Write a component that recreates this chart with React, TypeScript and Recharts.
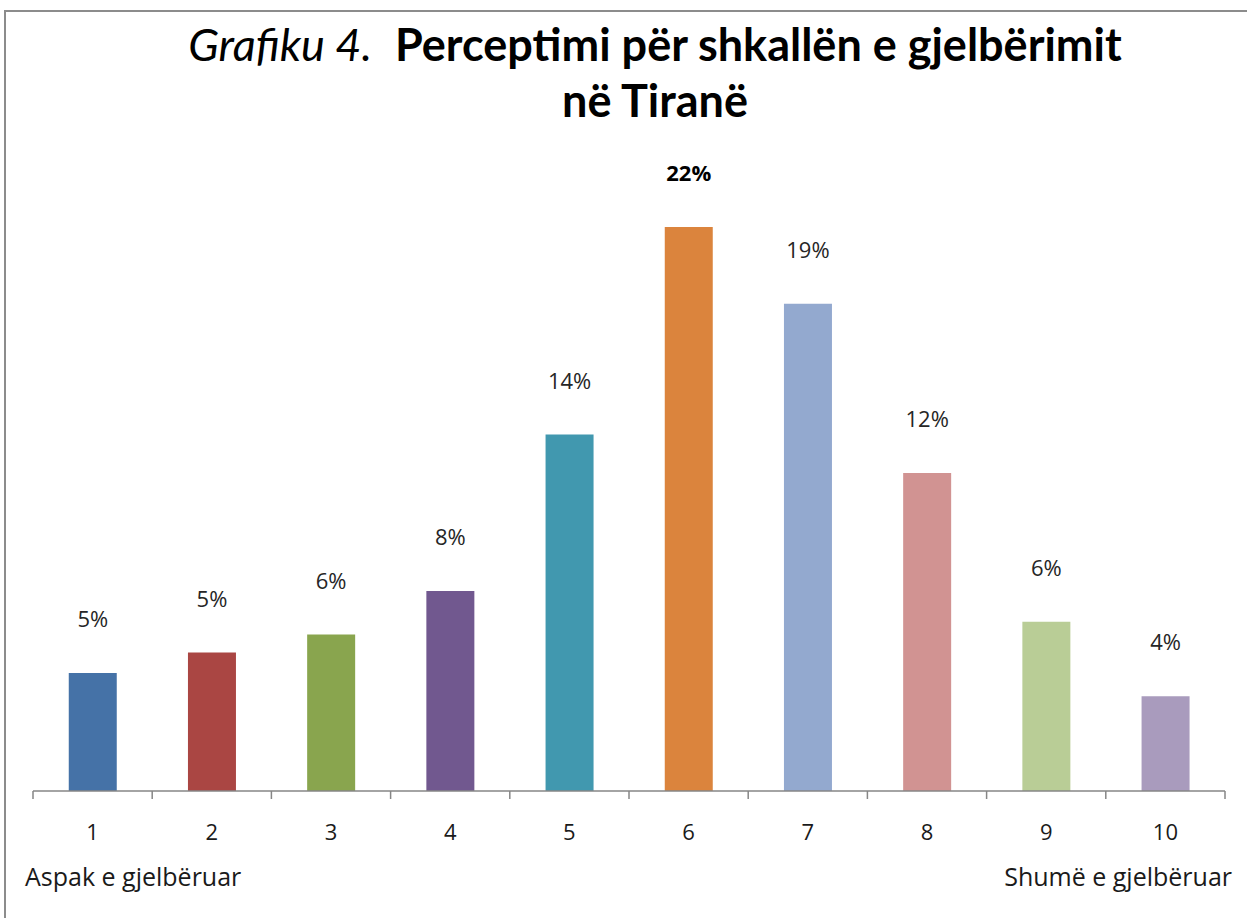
import React from 'react';
import { BarChart, Bar, XAxis, YAxis, Cell, LabelList } from 'recharts';

const categories = ['1', '2', '3', '4', '5', '6', '7', '8', '9', '10'];
const values = [4.6, 5.4, 6.1, 7.8, 13.9, 22.0, 19.0, 12.4, 6.6, 3.7];
const valueLabels = ['5%', '5%', '6%', '8%', '14%', '22%', '19%', '12%', '6%', '4%'];
const colors = ['#4572A7', '#AA4643', '#89A54E', '#71588F', '#4198AF', '#DB843D', '#93A9CF', '#D19392', '#B9CD96', '#A99BBD'];
const leftEndLabel = 'Aspak e gjelbëruar';
const rightEndLabel = 'Shumë e gjelbëruar';

const data = categories.map((c, i) => ({ name: c, value: values[i], label: valueLabels[i] }));
const maxIdx = values.indexOf(Math.max(...values));

const FONT = 'Lato, "Open Sans", sans-serif';
const SMALL = '"Open Sans", Lato, sans-serif';
const TICK_MARGIN = 40;
const TICK_LEN = 8;

const renderLabel = (props: any) => {
  const { x, y, width, index } = props;
  return (
    <text
      x={x + width / 2}
      y={y - 55}
      textAnchor="middle"
      dominantBaseline="central"
      fontFamily={SMALL}
      fontSize={22}
      fontWeight={index === maxIdx ? 700 : 400}
      fill={index === maxIdx ? '#000' : '#262626'}
    >
      {valueLabels[index]}
    </text>
  );
};

const CatTick = (props: any) => {
  const { x, y, payload, width, visibleTicksCount, index } = props;
  const count = visibleTicksCount || categories.length;
  const half = width / count / 2;
  const axisY = y - TICK_MARGIN;
  return (
    <g>
      <line x1={x - half} x2={x - half} y1={axisY} y2={axisY + TICK_LEN} stroke="#868686" strokeWidth={1.5} />
      {index === count - 1 && (
        <line x1={x + half} x2={x + half} y1={axisY} y2={axisY + TICK_LEN} stroke="#868686" strokeWidth={1.5} />
      )}
      <text x={x} y={y} textAnchor="middle" dominantBaseline="central" fontFamily={SMALL} fontSize={22} fill="#1a1a1a">
        {payload.value}
      </text>
    </g>
  );
};

export default function App() {
  return (
    <div style={{ position: 'absolute', left: 0, top: 0, width: 1247, height: 918, overflow: 'hidden', background: '#fff' }}>
      <div
        style={{
          position: 'absolute',
          left: 4,
          top: 10,
          width: 1300,
          height: 1000,
          border: '2px solid #8c8c8c',
          boxSizing: 'border-box',
        }}
      />
      <div
        style={{
          position: 'absolute',
          left: 0,
          top: 16,
          width: 1310,
          textAlign: 'center',
          fontFamily: FONT,
          fontSize: 45,
          lineHeight: '56px',
          color: '#000',
        }}
      >
        <div>
          <span style={{ fontStyle: 'italic', fontWeight: 400 }}>Grafiku 4.</span>
          <span>&nbsp;&nbsp;</span>
          <span style={{ fontWeight: 700 }}>Perceptimi për shkallën e gjelbërimit</span>
        </div>
        <div style={{ fontWeight: 700 }}>në Tiranë</div>
      </div>
      <div style={{ position: 'absolute', left: 0, top: 0 }}>
        <BarChart
          width={1247}
          height={918}
          data={data}
          margin={{ top: 150, right: 22, bottom: 87, left: 33 }}
          barCategoryGap="30%"
        >
          <XAxis
            dataKey="name"
            type="category"
            axisLine={{ stroke: '#868686', strokeWidth: 1.5 }}
            tickLine={false}
            tickSize={0}
            tickMargin={TICK_MARGIN}
            tick={<CatTick />}
            height={40}
            interval={0}
          />
          <YAxis hide domain={[0, 25]} />
          <Bar dataKey="value" isAnimationActive={false}>
            {data.map((d, i) => (
              <Cell key={d.name} fill={colors[i]} />
            ))}
            <LabelList dataKey="label" content={renderLabel} />
          </Bar>
        </BarChart>
      </div>
      <div style={{ position: 'absolute', left: 25, top: 859, fontFamily: SMALL, fontSize: 25, color: '#1a1a1a', whiteSpace: 'nowrap' }}>
        {leftEndLabel}
      </div>
      <div style={{ position: 'absolute', right: 15, top: 859, fontFamily: SMALL, fontSize: 25, color: '#1a1a1a', whiteSpace: 'nowrap' }}>
        {rightEndLabel}
      </div>
    </div>
  );
}
